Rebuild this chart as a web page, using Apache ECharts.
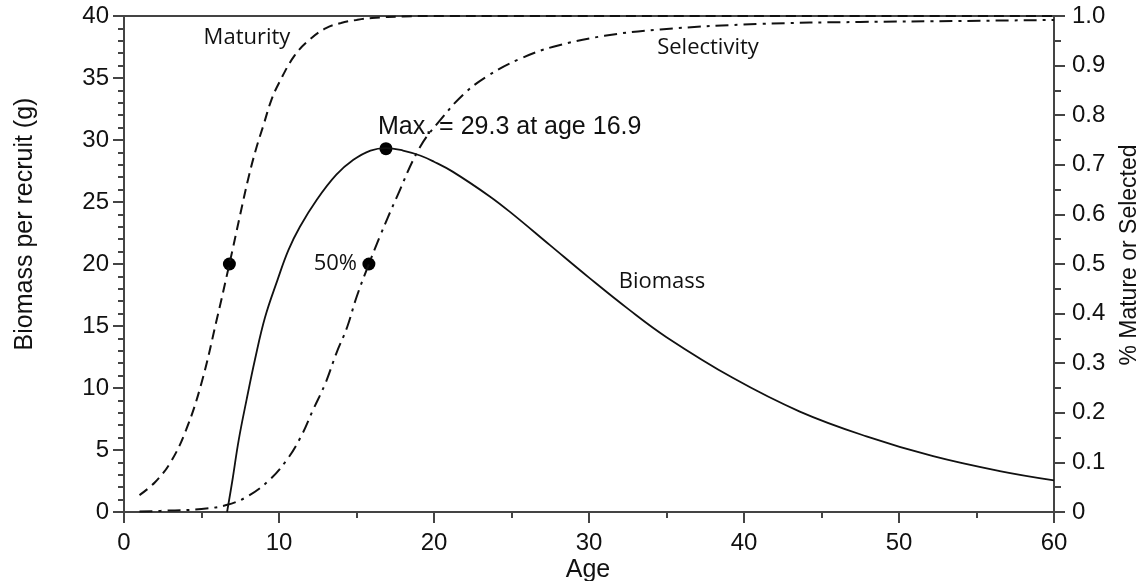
<!DOCTYPE html>
<html>
<head>
<meta charset="utf-8">
<script src="https://cdn.jsdelivr.net/npm/echarts@6/dist/echarts.min.js"></script>
<style>
    html, body { margin: 0; padding: 0; background: #fff; }
    #main { width: 1143px; height: 581px; }
</style>
</head>
<body>
<div id="main"></div>
<script>
// values
var maturityAge = [1, 2, 3, 4, 5, 6, 6.8, 7.5, 8, 8.5, 9, 9.5, 10, 11, 12, 13, 14, 15, 16, 18, 20, 25, 30, 40, 50, 60];
var maturity = [0.034, 0.06, 0.1, 0.165, 0.26, 0.39, 0.5, 0.6, 0.67, 0.73, 0.78, 0.83, 0.865, 0.92, 0.953, 0.975, 0.986, 0.992, 0.996, 0.999, 1, 1, 1, 1, 1, 1];

var selectAge = [1, 3, 5, 6.6, 8, 9.4, 10.5, 11.4, 12.2, 13, 13.7, 14.4, 15, 15.8, 16.5, 17.6, 19.1, 20.4, 21.9, 23.4, 25.5, 27.7, 31, 34.6, 41, 47.5, 54, 60];
var selectivity = [0.001, 0.003, 0.006, 0.014, 0.032, 0.065, 0.105, 0.151, 0.206, 0.26, 0.32, 0.373, 0.433, 0.5, 0.555, 0.635, 0.736, 0.79, 0.842, 0.878, 0.913, 0.938, 0.96, 0.973, 0.984, 0.988, 0.99, 0.992];

var biomassAge = [6.65, 7, 7.4, 7.9, 8.45, 9.1, 9.9, 10.6, 11.35, 12.45, 13.7, 14.8, 15.9, 16.9, 18, 19.1, 20, 21.2, 23.6, 25, 27.5, 30, 32.5, 35, 39.3, 43.6, 47.9, 52.2, 56.5, 60];
var biomass = [0, 2.6, 5.8, 9.0, 12.3, 15.7, 18.7, 21.1, 23.0, 25.2, 27.2, 28.4, 29.15, 29.35, 29.15, 28.75, 28.25, 27.45, 25.45, 24.1, 21.5, 18.9, 16.4, 14.1, 10.8, 8.1, 6.1, 4.5, 3.3, 2.55];

// marked points
var maturity50 = [6.8, 0.5];
var selectivity50 = [15.8, 0.5];
var biomassMax = [16.9, 29.3];

function pairs(xs, ys) {
    var out = [];
    for (var i = 0; i < xs.length; i++) {
        out.push([xs[i], ys[i]]);
    }
    return out;
}

var chart = echarts.init(document.getElementById('main'));
var axisColor = '#444';
var inkColor = '#111';
var plainFont = '"Liberation Sans", Arial, sans-serif';
var noteFont = '"Open Sans", sans-serif';

var option = {
    backgroundColor: '#fff',
    animation: false,
    grid: {
        left: 124, right: 89, top: 16, bottom: 69,
        containLabel: false,
        outerBoundsMode: 'none',
        show: true,
        borderColor: axisColor,
        borderWidth: 2
    },
    xAxis: {
        type: 'value',
        min: 0, max: 60, interval: 10,
        axisLine: { show: true, onZero: false, lineStyle: { color: axisColor, width: 2 } },
        axisTick: { show: true, inside: false, length: 11, lineStyle: { color: axisColor, width: 2 } },
        minorTick: { show: true, splitNumber: 2, length: 6, lineStyle: { color: axisColor, width: 2 } },
        splitLine: { show: false },
        axisLabel: { fontSize: 24, color: inkColor, fontFamily: plainFont, margin: 19 }
    },
    yAxis: [
        {
            type: 'value',
            min: 0, max: 40, interval: 5,
            position: 'left',
            axisLine: { show: true, onZero: false, lineStyle: { color: axisColor, width: 2 } },
            axisTick: { show: true, inside: false, length: 11, lineStyle: { color: axisColor, width: 2 } },
            minorTick: { show: true, splitNumber: 5, length: 6, lineStyle: { color: axisColor, width: 2 } },
            splitLine: { show: false },
            axisLabel: { fontSize: 24, color: inkColor, fontFamily: plainFont, margin: 15 }
        },
        {
            type: 'value',
            min: 0, max: 1, interval: 0.1,
            position: 'right',
            axisLine: { show: true, onZero: false, lineStyle: { color: axisColor, width: 2 } },
            axisTick: { show: true, inside: false, length: 11, lineStyle: { color: axisColor, width: 2 } },
            minorTick: { show: true, splitNumber: 2, length: 7, lineStyle: { color: axisColor, width: 2 } },
            splitLine: { show: false },
            axisLabel: {
                fontSize: 24, color: inkColor, fontFamily: plainFont, margin: 18,
                formatter: function (v) {
                    return v === 0 ? '0' : v.toFixed(1);
                }
            }
        }
    ],
    series: [
        {
            name: 'Maturity',
            type: 'line',
            yAxisIndex: 1,
            showSymbol: false,
            smooth: 0.4,
            lineStyle: { color: inkColor, width: 2, type: [10, 6] },
            data: pairs(maturityAge, maturity)
        },
        {
            name: 'Selectivity',
            type: 'line',
            yAxisIndex: 1,
            showSymbol: false,
            smooth: 0.4,
            lineStyle: { color: inkColor, width: 2, type: [13, 6, 3, 6] },
            data: pairs(selectAge, selectivity)
        },
        {
            name: 'Biomass',
            type: 'line',
            yAxisIndex: 0,
            showSymbol: false,
            smooth: 0.4,
            lineStyle: { color: inkColor, width: 1.8 },
            data: pairs(biomassAge, biomass)
        },
        {
            name: 'points50',
            type: 'scatter',
            yAxisIndex: 1,
            symbolSize: 13,
            itemStyle: { color: '#000', opacity: 1 },
            data: [maturity50, selectivity50]
        },
        {
            name: 'max',
            type: 'scatter',
            yAxisIndex: 0,
            symbolSize: 13,
            itemStyle: { color: '#000', opacity: 1 },
            data: [biomassMax]
        }
    ],
    graphic: [
        {
            type: 'text', x: 247, y: 38,
            style: { text: 'Maturity', font: '22px ' + noteFont, fill: inkColor, align: 'center', verticalAlign: 'middle' }
        },
        {
            type: 'text', x: 708, y: 48,
            style: { text: 'Selectivity', font: '22px ' + noteFont, fill: inkColor, align: 'center', verticalAlign: 'middle' }
        },
        {
            type: 'text', x: 378, y: 127,
            style: { text: 'Max. = 29.3 at age 16.9', font: '25px ' + plainFont, fill: inkColor, align: 'left', verticalAlign: 'middle' }
        },
        {
            type: 'text', x: 357, y: 264,
            style: { text: '50%', font: '22px ' + noteFont, fill: inkColor, align: 'right', verticalAlign: 'middle' }
        },
        {
            type: 'text', x: 662, y: 282,
            style: { text: 'Biomass', font: '22px ' + noteFont, fill: inkColor, align: 'center', verticalAlign: 'middle' }
        },
        {
            type: 'text', x: 588, y: 570,
            style: { text: 'Age', font: '25px ' + plainFont, fill: inkColor, align: 'center', verticalAlign: 'middle' }
        },
        {
            type: 'text', x: 25, y: 224, rotation: Math.PI / 2,
            style: { text: 'Biomass per recruit (g)', font: '25px ' + plainFont, fill: inkColor, align: 'center', verticalAlign: 'middle' }
        },
        {
            type: 'text', x: 1130, y: 255, rotation: Math.PI / 2,
            style: { text: '% Mature or Selected', font: '23px ' + plainFont, fill: inkColor, align: 'center', verticalAlign: 'middle' }
        }
    ]
};
chart.setOption(option);
</script>
</body>
</html>
